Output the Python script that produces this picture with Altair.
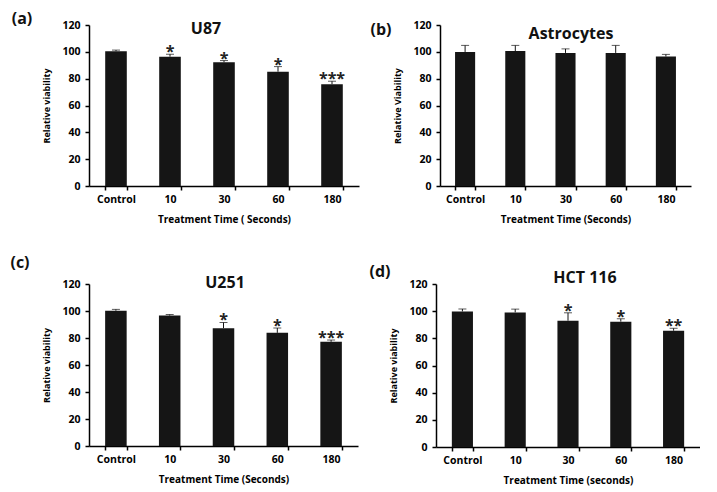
import altair as alt
import pandas as pd

categories = ["Control", "10", "30", "60", "180"]

a_vals = [100.5, 96.4, 92.2, 85.2, 75.9]
a_err = [0.8, 1.8, 1.3, 3.8, 2.2]
a_stars = ["", "*", "*", "*", "***"]

b_vals = [99.9, 100.6, 99.2, 99.2, 96.5]
b_err = [4.9, 4.2, 3.0, 5.6, 1.6]
b_stars = ["", "", "", "", ""]

c_vals = [100.2, 96.6, 87.3, 83.8, 77.2]
c_err = [1.0, 0.8, 4.2, 3.6, 1.3]
c_stars = ["", "", "*", "*", "***"]

d_vals = [99.8, 99.1, 93.0, 92.3, 85.6]
d_err = [1.8, 2.4, 5.8, 2.1, 1.8]
d_stars = ["", "", "*", "*", "**"]

y_ticks = [0, 20, 40, 60, 80, 100, 120]

panels = [
    dict(label="(a)", title="U87", vals=a_vals, err=a_err, stars=a_stars,
         ytitle="Relative viability", xtitle="Treatment Time ( Seconds)",
         w=270, h=161, lx=-67, ly=-6, tx=117, ty=4),
    dict(label="(b)", title="Astrocytes", vals=b_vals, err=b_err, stars=b_stars,
         ytitle="Relative Viability", xtitle="Treatment Time (Seconds)",
         w=251, h=161, lx=-59, ly=5, tx=131, ty=9),
    dict(label="(c)", title="U251", vals=c_vals, err=c_err, stars=c_stars,
         ytitle="Relative viability", xtitle="Treatment Time (Seconds)",
         w=269, h=162, lx=-69, ly=-21, tx=136, ty=-1),
    dict(label="(d)", title="HCT 116", vals=d_vals, err=d_err, stars=d_stars,
         ytitle="Relative viability", xtitle="Treatment Time (seconds)",
         w=264, h=163, lx=-56, ly=-12, tx=149, ty=-6),
]

FONT = "Open Sans"


def make_panel(p):
    df = pd.DataFrame({
        "cat": categories,
        "val": p["vals"],
        "top": [v + e for v, e in zip(p["vals"], p["err"])],
        "star": p["stars"],
    })
    x = alt.X("cat:N", sort=categories,
              scale=alt.Scale(paddingInner=0.6, paddingOuter=0.3),
              axis=alt.Axis(title=p["xtitle"], labelAngle=0, tickBand="extent",
                            labelFontSize=10.5, labelFontWeight="bold",
                            titleFontSize=10, titleFontWeight="bold",
                            labelPadding=4, titlePadding=10))
    yscale = alt.Scale(domain=[0, 120])
    yaxis = alt.Axis(title=p["ytitle"], values=y_ticks, labelOverlap=False,
                     labelFontSize=10.5, labelFontWeight="bold",
                     titleFontSize=9, titleFontWeight="bold",
                     labelPadding=5, titlePadding=10)
    y_val = alt.Y("val:Q", scale=yscale, axis=yaxis)
    y_top = alt.Y("top:Q", scale=yscale, axis=yaxis)
    base = alt.Chart(df)
    bars = base.mark_bar(color="#151515").encode(x=x, y=y_val)
    err = base.mark_rule(color="#151515", strokeWidth=1).encode(
        x=x, y=y_val, y2="top:Q")
    caps = base.mark_tick(color="#151515", size=8, thickness=1, orient="horizontal").encode(
        x=x, y=y_top)
    stars = base.mark_text(fontSize=16, fontWeight="bold", color="#222",
                           baseline="alphabetic", dy=3).encode(
        x=x, y=y_top, text="star:N")
    title = alt.Chart(pd.DataFrame({"t": [p["title"]]})).mark_text(
        fontSize=16, fontWeight="bold", font=FONT, baseline="middle", color="#111").encode(
        x=alt.value(p["tx"]), y=alt.value(p["ty"]), text="t:N")
    label = alt.Chart(pd.DataFrame({"t": [p["label"]]})).mark_text(
        fontSize=16, fontWeight="bold", font=FONT, baseline="middle", color="#111").encode(
        x=alt.value(p["lx"]), y=alt.value(p["ly"]), text="t:N")
    return alt.layer(bars, err, caps, stars, title, label).properties(
        width=p["w"], height=p["h"])


row1 = alt.hconcat(make_panel(panels[0]), make_panel(panels[1]), spacing=11)
row2 = alt.hconcat(make_panel(panels[2]), make_panel(panels[3]), spacing=11)
chart = alt.vconcat(row1, row2, spacing=30).properties(
    padding={"left": 2, "top": 3, "right": 0, "bottom": 0}
).configure(
    font=FONT,
).configure_view(stroke=None).configure_axis(
    grid=False, domainColor="black", domainWidth=1.5, tickColor="black",
    tickWidth=1.5, tickSize=4, labelColor="black", titleColor="black",
    labelFont=FONT, titleFont=FONT,
).configure_text(font=FONT)

chart.save("out.html", embed_options={"renderer": "svg", "actions": False})
